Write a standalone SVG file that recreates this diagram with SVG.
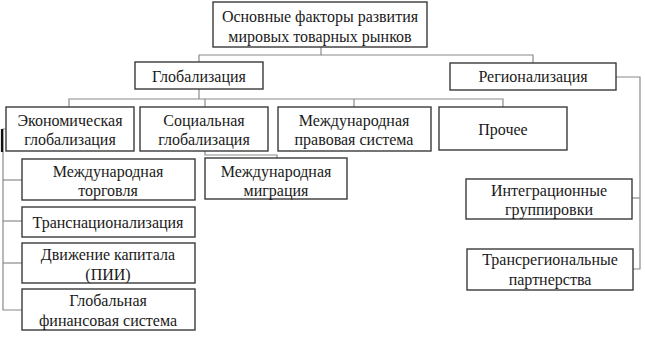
<svg xmlns="http://www.w3.org/2000/svg" width="645" height="339" viewBox="0 0 645 339">
<style>
.box{fill:#fff;stroke:#3a3a3a;stroke-width:1.4}
.con{fill:none;stroke:#8a8a8a;stroke-width:1.2}
text{font-family:"Liberation Serif","Times New Roman",serif;font-size:16px;fill:#1a1a1a;text-anchor:middle}
</style>
<rect width="645" height="339" fill="#fff"/>
<g id="connectors">
<polyline class="con" points="321,47 321,55 199,55 199,62"/>
<polyline class="con" points="321,55 533,55 533,63"/>
<polyline class="con" points="199,89 199,99"/>
<polyline class="con" points="69,107 69,99 503,99 503,107"/>
<polyline class="con" points="205,99 205,107"/>
<polyline class="con" points="354,99 354,107"/>
<polyline class="con" points="205,151 205,155 277,155 277,158"/>
<polyline class="con" points="616,77 640,77 640,269 633,269"/>
<polyline class="con" points="632,198 640,198"/>
<polyline class="con" points="6,129 3,129 3,310 22,310"/>
<polyline class="con" points="3,180 22,180"/>
<polyline class="con" points="3,221 22,221"/>
<polyline class="con" points="3,263 22,263"/>
<line x1="2" y1="129" x2="2" y2="152" stroke="#111" stroke-width="2.2"/>
</g>
<g id="root"><rect class="box" x="213" y="2" width="214" height="45"/><text x="320" y="22">Основные факторы развития</text><text x="320" y="42">мировых товарных рынков</text></g>
<g id="glob"><rect class="box" x="135" y="62" width="128" height="27"/><text x="199" y="82">Глобализация</text></g>
<g id="reg"><rect class="box" x="450" y="63" width="166" height="27"/><text x="533" y="82">Регионализация</text></g>
<g id="econ"><rect class="box" x="6" y="107" width="128" height="44"/><text x="70" y="126">Экономическая</text><text x="70" y="145">глобализация</text></g>
<g id="soc"><rect class="box" x="140" y="107" width="128" height="44"/><text x="204" y="126">Социальная</text><text x="204" y="145">глобализация</text></g>
<g id="law"><rect class="box" x="278" y="107" width="153" height="44"/><text x="354" y="126">Международная</text><text x="354" y="145">правовая система</text></g>
<g id="other"><rect class="box" x="439" y="107" width="128" height="43"/><text x="503" y="135">Прочее</text></g>
<g id="trade"><rect class="box" x="22" y="159" width="173" height="41"/><text x="108" y="177">Международная</text><text x="108" y="196">торговля</text></g>
<g id="migr"><rect class="box" x="205" y="158" width="142" height="41"/><text x="276" y="177">Международная</text><text x="276" y="196">миграция</text></g>
<g id="tnc"><rect class="box" x="22" y="207" width="173" height="30"/><text x="108" y="228">Транснационализация</text></g>
<g id="cap"><rect class="box" x="22" y="243" width="173" height="40"/><text x="108" y="260">Движение капитала</text><text x="108" y="280">(ПИИ)</text></g>
<g id="fin"><rect class="box" x="22" y="289" width="173" height="41"/><text x="108" y="306">Глобальная</text><text x="108" y="326">финансовая система</text></g>
<g id="integ"><rect class="box" x="466" y="179" width="166" height="40"/><text x="549" y="196">Интеграционные</text><text x="549" y="215">группировки</text></g>
<g id="trans"><rect class="box" x="467" y="249" width="166" height="41"/><text x="550" y="265">Трансрегиональные</text><text x="550" y="285">партнерства</text></g>
</svg>
